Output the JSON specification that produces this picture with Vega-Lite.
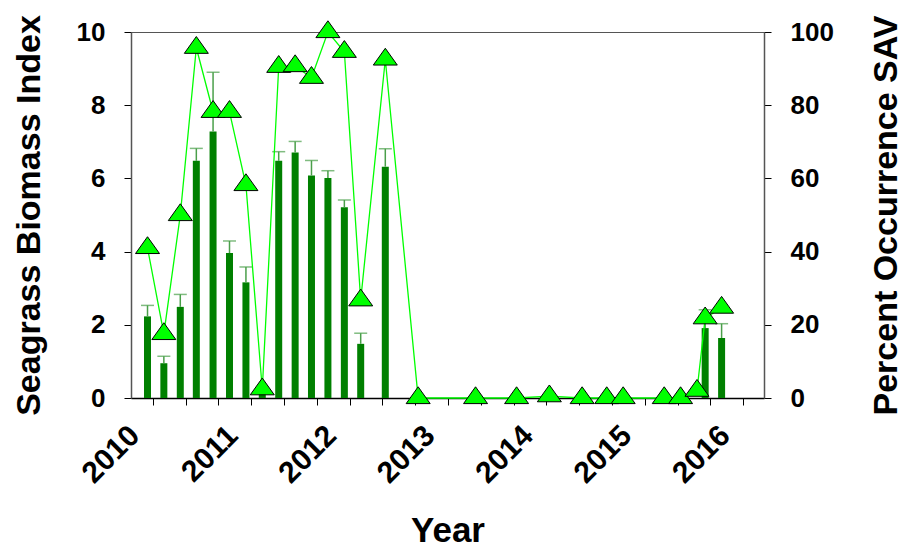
{
  "$schema": "https://vega.github.io/schema/vega-lite/v6.json",
  "autosize": "none",
  "width": 633,
  "height": 366,
  "padding": {"left": 131, "top": 32, "right": 142, "bottom": 153},
  "background": "white",
  "config": {
    "font": "Liberation Sans",
    "view": {"stroke": "#555555", "strokeWidth": 1},
    "axis": {
      "grid": false,
      "labelFont": "Liberation Sans",
      "labelFontWeight": "bold",
      "labelColor": "black",
      "labelFontSize": 26,
      "titleFont": "Liberation Sans",
      "titleFontWeight": "bold",
      "titleColor": "black",
      "tickColor": "black",
      "tickSize": 7,
      "tickWidth": 1,
      "domainColor": "#555555",
      "domainWidth": 1.5,
      "labelPadding": 19
    }
  },
  "datasets": {
    "bio": [
      {"t": 2009.947, "b": 2.23, "u": 2.53},
      {"t": 2010.113, "b": 0.95, "u": 1.14},
      {"t": 2010.28, "b": 2.49, "u": 2.83},
      {"t": 2010.443, "b": 6.48, "u": 6.82},
      {"t": 2010.613, "b": 7.28, "u": 8.9},
      {"t": 2010.78, "b": 3.96, "u": 4.29},
      {"t": 2010.947, "b": 3.16, "u": 3.58},
      {"t": 2011.113, "b": 0.15, "u": 0.2},
      {"t": 2011.28, "b": 6.48, "u": 6.73},
      {"t": 2011.447, "b": 6.71, "u": 7.01},
      {"t": 2011.613, "b": 6.08, "u": 6.49},
      {"t": 2011.78, "b": 6.01, "u": 6.21},
      {"t": 2011.947, "b": 5.21, "u": 5.41},
      {"t": 2012.113, "b": 1.48, "u": 1.77},
      {"t": 2012.363, "b": 6.32, "u": 6.81},
      {"t": 2015.613, "b": 1.91, "u": 2.41},
      {"t": 2015.78, "b": 1.64, "u": 2.03}
    ],
    "pct": [
      {"t": 2009.947, "p": 41},
      {"t": 2010.113, "p": 17.5},
      {"t": 2010.28, "p": 50},
      {"t": 2010.443, "p": 95.7},
      {"t": 2010.613, "p": 78.2},
      {"t": 2010.78, "p": 78.2},
      {"t": 2010.947, "p": 58.2},
      {"t": 2011.113, "p": 2.4},
      {"t": 2011.28, "p": 90.5},
      {"t": 2011.447, "p": 90.7},
      {"t": 2011.613, "p": 87.5},
      {"t": 2011.78, "p": 100},
      {"t": 2011.947, "p": 94.6},
      {"t": 2012.113, "p": 26.7},
      {"t": 2012.363, "p": 92.5},
      {"t": 2012.697, "p": 0},
      {"t": 2013.28, "p": 0},
      {"t": 2013.697, "p": 0},
      {"t": 2014.03, "p": 0.5},
      {"t": 2014.363, "p": 0},
      {"t": 2014.613, "p": 0},
      {"t": 2014.78, "p": 0},
      {"t": 2015.197, "p": 0},
      {"t": 2015.363, "p": 0},
      {"t": 2015.53, "p": 2},
      {"t": 2015.613, "p": 21.8},
      {"t": 2015.78, "p": 24.7}
    ]
  },
  "encoding": {
    "x": {
      "field": "t", "type": "quantitative", "title": "Year",
      "scale": {"domain": [2009.83, 2016.16], "nice": false, "zero": false},
      "axis": {
        "titleFontSize": 35,
        "titlePadding": 25,
        "values": [2010, 2010.3333, 2010.6667, 2011, 2011.3333, 2011.6667, 2012, 2012.3333, 2012.6667, 2013, 2013.3333, 2013.6667, 2014, 2014.3333, 2014.6667, 2015, 2015.3333, 2015.6667, 2016],
        "labelExpr": "abs(datum.value - round(datum.value)) < 0.01 ? '' + round(datum.value) : ''",
        "labelAngle": -45,
        "labelAlign": "right",
        "labelBaseline": "top",
        "labelPadding": 15,
        "labelOffset": -29,
        "labelOverlap": false,
        "labelBound": false,
        "labelFontSize": 30,
        "domainColor": "black"
      }
    }
  },
  "layer": [
    {
      "data": {"name": "bio"},
      "layer": [
        {
          "mark": {"type": "bar", "orient": "vertical", "size": 7, "color": "#008000"},
          "encoding": {
            "y": {
              "field": "b", "type": "quantitative", "title": "Seagrass Biomass Index",
              "stack": null,
              "scale": {"domain": [0, 10], "nice": false},
              "axis": {
                "titleFontSize": 34,
                "titlePadding": 30,
                "values": [0, 2, 4, 6, 8, 10]
              }
            }
          }
        },
        {
          "mark": {"type": "rule", "color": "#4a9f4a", "strokeWidth": 1.5},
          "encoding": {
            "y": {"field": "b", "type": "quantitative", "title": "Seagrass Biomass Index"},
            "y2": {"field": "u"}
          }
        },
        {
          "mark": {"type": "tick", "orient": "horizontal", "size": 13, "thickness": 1.5, "color": "#4a9f4a"},
          "encoding": {
            "y": {"field": "u", "type": "quantitative", "title": "Seagrass Biomass Index"}
          }
        }
      ]
    },
    {
      "data": {"name": "pct"},
      "layer": [
        {
          "mark": {"type": "line", "color": "#00ff00", "strokeWidth": 1.3},
          "encoding": {
            "y": {
              "field": "p", "type": "quantitative", "title": "Percent Occurrence SAV",
              "scale": {"domain": [0, 100], "nice": false},
              "axis": {
                "orient": "right",
                "titleFontSize": 34,
                "titleAngle": 270,
                "titleBaseline": "top",
                "titlePadding": 36,
                "values": [0, 20, 40, 60, 80, 100]
              }
            }
          }
        },
        {
          "mark": {"type": "point", "shape": "M0,-0.933L-1,0.467L1,0.467Z", "size": 576, "filled": true, "fill": "#00ff00", "fillOpacity": 1, "stroke": "black", "strokeWidth": 1, "opacity": 1},
          "encoding": {
            "y": {"field": "p", "type": "quantitative", "title": "Percent Occurrence SAV"}
          }
        }
      ]
    }
  ],
  "resolve": {"scale": {"y": "independent"}, "axis": {"y": "independent"}}
}
